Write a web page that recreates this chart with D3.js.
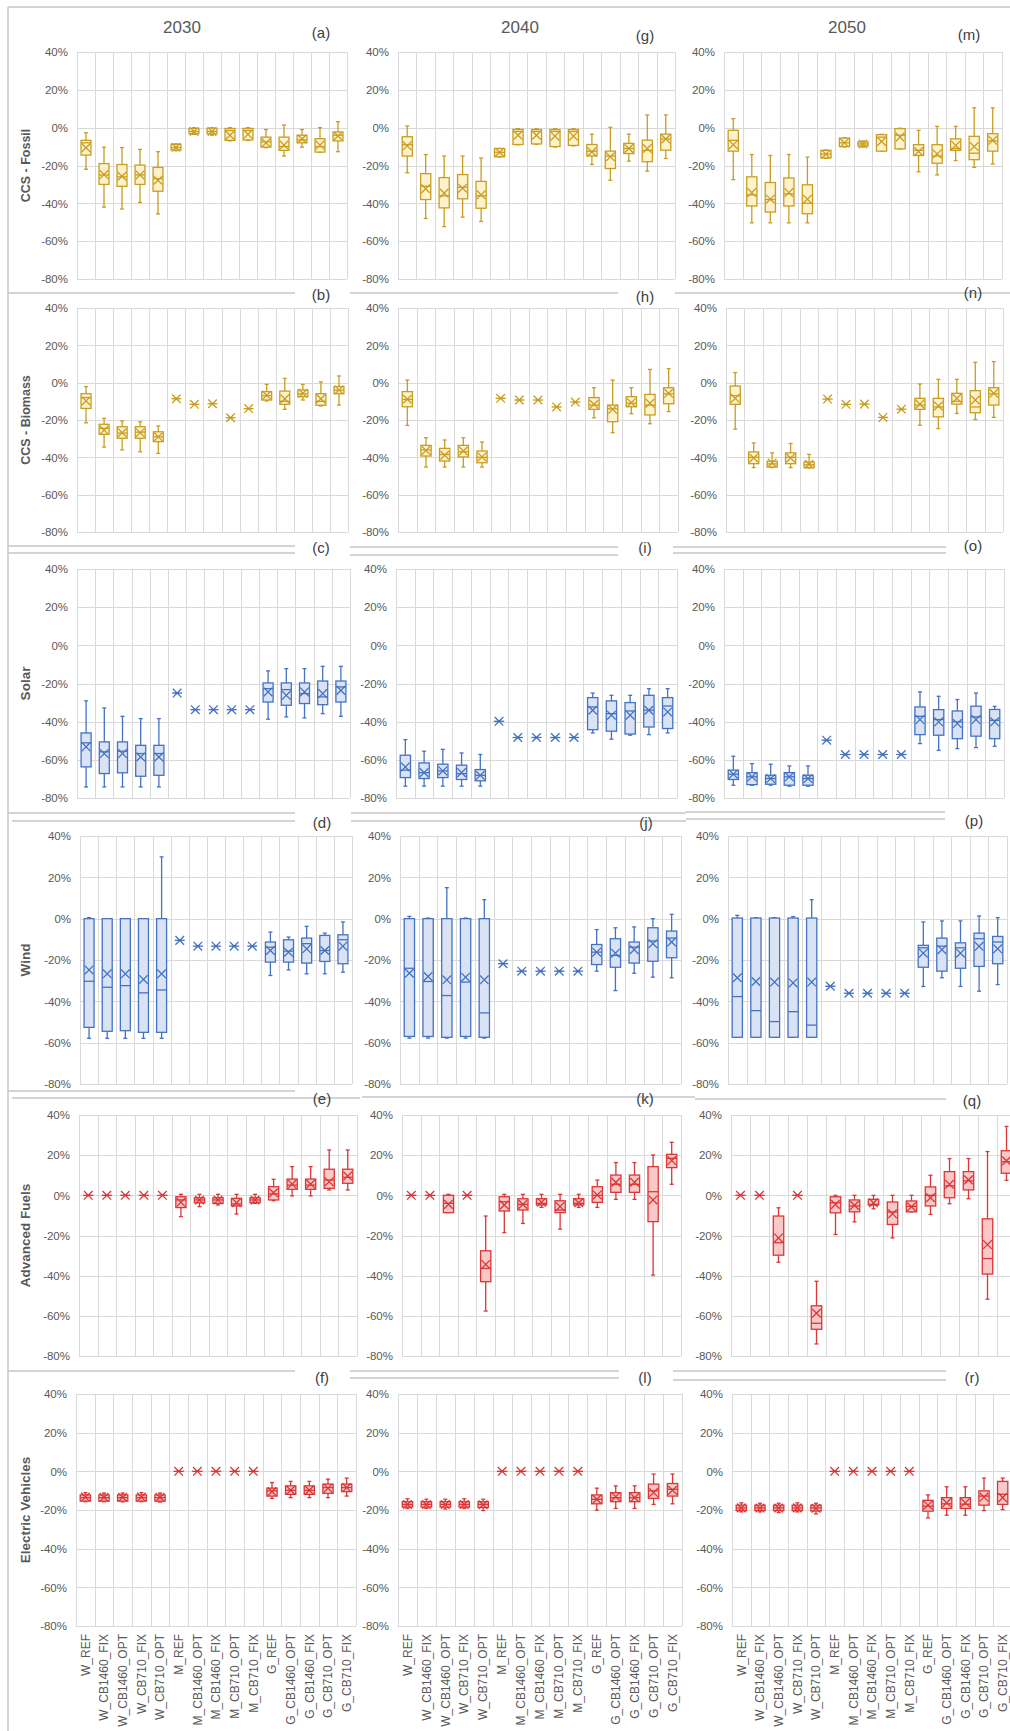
<!DOCTYPE html>
<meta charset="utf-8">
<style>
body { margin: 0; background: #fff; }
svg { display: block; font-family: "Liberation Sans", Arial, sans-serif; }
.tick text { fill: #595959; font-size: 11px; }
.grid line { stroke: #d9d9d9; stroke-width: 1; }
</style>
<svg width="1010" height="1731"></svg>
<script src="https://d3js.org/d3.v7.min.js"></script>
<script>

var categories = ["W_REF", "W_CB1460_FIX", "W_CB1460_OPT", "W_CB710_FIX", "W_CB710_OPT",
	"M_REF", "M_CB1460_OPT", "M_CB1460_FIX", "M_CB710_OPT", "M_CB710_FIX",
	"G_REF", "G_CB1460_OPT", "G_CB1460_FIX", "G_CB710_OPT", "G_CB710_FIX"];
var years = ["2030", "2040", "2050"];
var rowTitles = ["CCS - Fossil", "CCS - Biomass", "Solar", "Wind", "Advanced Fuels", "Electric Vehicles"];
var panelLetters = [["(a)", "(g)", "(m)"], ["(b)", "(h)", "(n)"], ["(c)", "(i)", "(o)"],
	["(d)", "(j)", "(p)"], ["(e)", "(k)", "(q)"], ["(f)", "(l)", "(r)"]];
var yTicks = [40, 20, 0, -20, -40, -60, -80];

// each entry: [min, q1, median, q3, max, mean] in %; a single number = all scenarios identical
var fossil2030 = [
	[-22, -14.5, -8, -6.7, -2.7, -10.6], [-42, -30, -25, -19, -10.3, -24.8], [-43, -31, -26, -19.5, -10.5, -25.7],
	[-39.5, -30, -25, -19.8, -11.5, -25], [-45.6, -33.6, -27, -21, -12.7, -27.8], [-12.2, -11.8, -10.5, -8.8, -8.5, -10.4],
	[-3.5, -3.2, -2, -0.4, 0, -2], [-4, -3.3, -2, -0.3, 0, -2], [-7, -6.7, -1.5, -0.4, 0, -4],
	[-6.8, -6.5, -1.5, -0.4, 0, -3.5], [-10.6, -10.3, -7.5, -5, -1, -8], [-15, -12, -10, -5, 1.4, -9.2],
	[-10.3, -8, -6.5, -4, -1, -6], [-13, -12.9, -10, -5.8, 0, -9.2], [-12.7, -7, -4, -2.3, 3.2, -4.4]
];
var fossil2040 = [
	[-23.8, -15, -9, -4.8, 0.9, -9.6], [-48, -38, -31, -24.3, -14.2, -32.3], [-52.3, -42.4, -36, -26.4, -15, -34.6],
	[-47.3, -37.6, -31.5, -24.8, -15, -32], [-49.6, -42.6, -36, -28.4, -16, -35.5], [-15.5, -15.4, -13, -11, -11, -13],
	[-9, -8.9, -2, -0.9, -0.5, -4], [-8.8, -8.6, -2, -1, -0.5, -4], [-10.2, -10, -2, -1, -0.5, -4.5],
	[-9.6, -9.4, -2, -1, -0.5, -4.5], [-19.5, -15, -12.5, -8.9, -3.4, -12.8], [-27.8, -21.6, -15, -12.4, 0.2, -15.4],
	[-17.7, -13.7, -11, -8.3, -3.4, -11], [-23, -18, -12, -6.6, 6.7, -11], [-16.3, -11.9, -6, -3.4, 6.7, -6]
];
var fossil2050 = [
	[-27.5, -12.4, -6.7, -1.4, 4.8, -9], [-50.3, -41.4, -35.5, -26, -14.2, -34.3], [-50.3, -44.6, -38, -29, -14.7, -37.8],
	[-50.3, -41.4, -35, -26.6, -14.2, -34.3], [-50.3, -45.5, -40, -30.2, -15.6, -37.8], [-16.2, -16, -14, -12, -11.8, -14],
	[-10.2, -10, -8, -5.5, -5.3, -8], [-10.3, -9.7, -8.6, -7.5, -7, -8.6], [-12.5, -12.4, -5, -3.7, -3.5, -7.3],
	[-11.3, -11.2, -4, -0.5, -0.3, -5], [-23.3, -14.7, -12, -9, -1.4, -12.6], [-25, -18.8, -15, -9, 0.7, -13.9],
	[-17.4, -12, -11, -5.9, 0.7, -9.4], [-21, -16.9, -13.5, -4.6, 10.5, -10], [-19.2, -12.4, -7, -3.2, 10.5, -6.7]
];
var biomass2030 = [
	[-21.5, -13.8, -8, -5.9, -2.1, -9.8], [-34.5, -27.7, -24.5, -22.3, -19.1, -25.4], [-36, -29.8, -27, -23.6, -20.5, -26.8],
	[-37, -29.8, -26.5, -23.6, -21, -26.8], [-37.9, -31.6, -29, -26.3, -23.2, -29], [-8.6],
	[-11.6], [-11.3], [-18.8],
	[-13.9], [-9.8, -9.3, -7, -4.8, -0.9, -6.8], [-14.3, -11.6, -10, -4.5, 2.3, -8.6],
	[-9.3, -7.5, -6, -3.9, -0.9, -5.7], [-12.5, -12.1, -10, -5.9, 0.4, -8.6], [-12, -5.9, -4, -2.1, 3.6, -3.9]
];
var biomass2040 = [
	[-22.9, -12.9, -9, -4.8, 1.4, -8.9], [-45.2, -39.3, -36, -33.6, -29.5, -36.3], [-45.2, -42, -38.5, -35.2, -30.7, -38.9],
	[-45.2, -39.8, -37, -33.6, -29.5, -36.6], [-45.2, -42.9, -40, -36.6, -31.8, -39.8], [-8.4],
	[-9.3], [-9.3], [-13],
	[-10.4], [-18.8, -14.3, -12, -8, -2.7, -11.6], [-26.8, -20.9, -14, -12, 1.4, -14.3],
	[-16.6, -12.9, -11, -7.5, -2.7, -10.7], [-22, -17.3, -12, -6.3, 7.1, -11], [-15.5, -11.3, -6, -2.7, 7.5, -5.7]
];
var biomass2050 = [
	[-24.9, -11.6, -7, -1.8, 5.4, -8.4], [-45.5, -43.4, -40, -37.1, -32.3, -40.3], [-45.5, -45.2, -43.5, -42.1, -37.6, -43],
	[-45.5, -43.4, -40, -37.6, -32.6, -40.3], [-45.7, -45.5, -44, -42.5, -38.4, -43.7], [-8.8],
	[-11.6], [-11.5], [-18.6],
	[-14.2], [-22.8, -14.3, -12, -8.4, -0.7, -11.5], [-24.6, -18.3, -13, -8.4, 1.8, -12.5],
	[-16.5, -11.5, -10, -5.7, 1.8, -8.4], [-19.7, -16.1, -13, -4.3, 10.9, -9.3], [-18.6, -12, -6, -2.7, 11.3, -5.7]
];
var solar2030 = [
	[-74.2, -63.7, -51.1, -45.9, -29.1, -53.2], [-74.2, -67.2, -55.8, -50.6, -32.8, -56.7], [-74.2, -66.8, -55.5, -50.6, -37.2, -56.7],
	[-74.2, -68.6, -56.7, -52.4, -38.4, -58.5], [-74.2, -68.1, -56.7, -52.4, -38.4, -58.5], [-25],
	[-33.7], [-33.7], [-33.7],
	[-33.7], [-38.7, -29.7, -22.7, -19.7, -13.4, -24.4], [-37.5, -31.4, -23.2, -19.7, -12.2, -26.2],
	[-38, -30.5, -25.3, -19.7, -12.2, -24.4], [-35.8, -31.1, -27, -18.7, -11, -25.3], [-37.2, -29.7, -21.8, -18.7, -11, -23.6]
];
var solar2040 = [
	[-73.8, -69.3, -65.4, -57.6, -49.4, -63.7], [-73.8, -69.8, -66.7, -61.6, -55.5, -66.7], [-73.8, -69.3, -65.8, -62.3, -54.5, -65.8],
	[-73.8, -70.3, -67.2, -62.8, -56.4, -66.7], [-73.8, -71, -68.1, -65.1, -57.2, -68.1], [-39.8],
	[-48.3], [-48.3], [-48.3],
	[-48.3], [-45.9, -44.2, -32.3, -27.4, -25, -34], [-49.2, -45, -35.8, -29.1, -26.2, -36.6],
	[-47.1, -46.5, -34.4, -30, -26.2, -36.6], [-46.8, -42.8, -34, -26.2, -22.7, -34], [-45.9, -43.6, -31.8, -27.4, -22.7, -34.9]
];
var solar2050 = [
	[-73.3, -70.3, -67.5, -65.4, -58.1, -67.5], [-73.3, -73, -68.9, -66.7, -62, -68.9], [-73.3, -72.8, -69.8, -68.1, -62.3, -69.8],
	[-73.8, -73.3, -68.9, -66.7, -63.2, -68.9], [-73.8, -73.3, -69.8, -68.1, -63.2, -69.8], [-49.7],
	[-57.2], [-57.2], [-57.2],
	[-57.2], [-51.5, -46.8, -37.2, -32.3, -24.4, -38.9], [-55, -47.1, -38.9, -33.7, -26.7, -40.1],
	[-54.1, -48.9, -40.1, -34.4, -28.4, -41], [-53.6, -47.6, -37.5, -31.9, -25, -38.9], [-52.9, -48.9, -39.3, -33.6, -32, -40.1]
];
var wind2030 = [
	[-57.9, -52.6, -30.3, 0, 0.5, -24.8], [-57.9, -54.5, -33.2, 0, 0, -26.7], [-57.9, -54.2, -32.4, 0, 0, -26.7],
	[-57.9, -55, -35.9, 0, 0, -29.4], [-57.9, -55, -34.5, 0, 29.9, -26.7], [-10.5],
	[-13.3], [-13.3], [-13.3],
	[-13.3], [-27.5, -21, -13.8, -11.3, -6.5, -15.4], [-24.8, -21, -15.7, -10.2, -8.9, -16.2],
	[-26.7, -21.5, -12.1, -9.4, -3.7, -14.6], [-26.7, -20.7, -15.4, -8.1, -7, -15.4], [-25.9, -21.8, -10.2, -7.8, -1.6, -13.3]
];
var wind2040 = [
	[-57.8, -57, -24, 0, 1.1, -26.4], [-57.8, -57, -30.4, 0, 0.3, -28], [-57.8, -57.4, -37.2, 0, 15, -29.6],
	[-57.8, -57, -30.7, 0, 0.3, -28.3], [-57.8, -57.4, -45.6, 0, 9.2, -29.6], [-21.8],
	[-25.4], [-25.4], [-25.4],
	[-25.4], [-25.4, -22.2, -16.2, -12.5, -5.3, -16.2], [-34.8, -23.5, -17.8, -9.7, -4.4, -16.7],
	[-26.4, -21.5, -13.8, -11.3, -4, -15], [-28.3, -20.6, -10.8, -4.4, 0, -12.1], [-28.6, -18.9, -9.4, -6, 2.1, -11.3]
];
var wind2050 = [
	[-57.4, -57.4, -37.7, 0.3, 1.6, -28.6], [-57.4, -57.4, -44.5, 0.3, 0.5, -30.4], [-57.4, -57.4, -49.8, 0.3, 0.5, -30.7],
	[-57.4, -57.4, -45, 0.3, 1, -31.1], [-57.4, -57.4, -51.5, 0.3, 9.2, -30.7], [-32.7],
	[-36.1], [-36.1], [-36.1],
	[-36.1], [-32.8, -23.5, -14.1, -12.9, -1.6, -16.7], [-28.6, -25.4, -13.3, -9.4, -1.1, -15],
	[-32.8, -24, -14.1, -11.7, -1.1, -16.7], [-35.1, -23.1, -9.7, -7, 1.3, -13.4], [-31.9, -21.8, -11.3, -8.6, 0.5, -14.6]
];
var fuels2030 = [
	[0], [0], [0],
	[0], [0], [-10.6, -6.1, -2.3, -0.7, 0.5, -3.5],
	[-5.6, -3.7, -2.3, -1.2, 0.5, -2.3], [-4.8, -4, -2.3, -1.2, 0.5, -2.3], [-9.3, -5.3, -4.3, -1.5, 0.5, -3.7],
	[-4, -3.7, -2.3, -1.2, 0.5, -2.3], [-2.7, -2.3, 0.7, 4.3, 8, 1.3], [-0.3, 3, 5.1, 8.1, 14.3, 5.6],
	[-0.3, 3, 5.1, 8.1, 14.3, 5.6], [2.7, 3.5, 7.6, 13, 22.6, 6.8], [2.7, 6, 9, 13, 22.6, 9.6]
];
var fuels2040 = [
	[0], [0], [-8.6, -8.6, -4, 0, 0.5, -4.5],
	[0], [-57.6, -43, -36.4, -27.6, -10.3, -34.4], [-18.6, -7.8, -3.2, -0.7, 0.5, -4.8],
	[-14, -7.3, -4.5, -1.7, 0.5, -4.5], [-6, -4.8, -4, -1.7, 0.5, -3.5], [-16.8, -8.6, -7.3, -2.7, 0.5, -5.6],
	[-6, -4.8, -4, -1.7, 0.5, -3.7], [-6, -3.5, 0, 4.3, 7.6, 0.2], [-2, 1.5, 5.5, 10.1, 16.3, 6.5],
	[-2, 1.5, 5.5, 10.1, 16.3, 6.5], [-39.7, -13.1, 1.8, 14.3, 20.1, -2.3], [5.5, 13.8, 18.4, 20.4, 26.4, 17.3]
];
var fuels2050 = [
	[0], [0], [-33.3, -29.8, -23.6, -10.3, -6.2, -21.2],
	[0], [-74, -66.7, -63.7, -55, -42.8, -58.7], [-19.5, -8.7, -3.7, -0.7, 0, -4.5],
	[-13.2, -8.2, -5.3, -2.3, 0, -5], [-6.7, -4.8, -4.5, -2, 0, -3.7], [-21.2, -14.5, -8.3, -3.3, 0, -9.2],
	[-8.2, -8.2, -5.5, -2.8, 0, -5.7], [-9.5, -5.3, 0, 4.2, 10, -1.2], [-4.2, -1.2, 4.7, 11.8, 18.3, 5.5],
	[-1.7, 2.7, 7.2, 11.8, 18.3, 7.7], [-51.7, -39.2, -31.5, -11.7, 21.8, -24.5], [7.5, 11, 16.7, 22.2, 34.3, 17.2]
];
var ev2030 = [
	[-15.7, -15.4, -13.6, -12.2, -11, -13.3], [-15.7, -15.4, -13.6, -12.2, -11.2, -13.4], [-15.8, -15.4, -13.6, -12.2, -11.2, -13.4],
	[-15.7, -15.4, -13.6, -12.2, -11, -13.3], [-15.9, -15.4, -13.6, -12.2, -11.2, -13.4], [0],
	[0], [0], [0],
	[0], [-14, -12.8, -10.1, -8.7, -5.8, -10.5], [-13.6, -11.9, -9.8, -7.5, -5.2, -9.8],
	[-13.6, -11.9, -9.8, -7.5, -5.2, -9.8], [-13.6, -11.4, -8.4, -6.6, -4, -8.7], [-12.8, -10.5, -8.4, -6.6, -3.5, -8.4]
];
var ev2040 = [
	[-19.2, -18.5, -17.1, -15.7, -14.2, -17.1], [-19.2, -18.5, -17.1, -15.7, -14.4, -17.2], [-19.5, -18.5, -17.1, -15.7, -14.4, -17.2],
	[-19.2, -18.5, -17.1, -15.7, -14.2, -17.1], [-20.3, -18.7, -17.1, -15.7, -14.4, -17.3], [0],
	[0], [0], [0],
	[0], [-20.1, -16.8, -14.5, -12.2, -8.7, -14.5], [-19.2, -15.7, -13.6, -11, -7.5, -13.1],
	[-19.2, -15.7, -13.6, -11, -7.5, -13.6], [-17.1, -14, -10.1, -6.6, -1.4, -11], [-16.8, -12.8, -9.3, -6.3, -1.4, -9.8]
];
var ev2050 = [
	[-21, -20.3, -18.9, -17.5, -16.3, -18.9], [-21, -20.3, -18.9, -17.5, -16.5, -19], [-21.3, -20.3, -18.9, -17.5, -16.5, -19],
	[-21, -20.3, -18.9, -17.5, -16.3, -18.9], [-22, -20.5, -18.9, -17.5, -16.5, -19.1], [0],
	[0], [0], [0],
	[0], [-24.1, -20.6, -18, -15, -12.2, -17.5], [-22.7, -19.2, -16.8, -13.6, -8, -16.3],
	[-22.7, -19.2, -17, -13.6, -8, -16.3], [-20.3, -17.5, -12.8, -10.1, -3.5, -13.3], [-19.8, -17.1, -11.9, -5.2, -3.5, -13.6]
];

var rowData = [
	[fossil2030, fossil2040, fossil2050],
	[biomass2030, biomass2040, biomass2050],
	[solar2030, solar2040, solar2050],
	[wind2030, wind2040, wind2050],
	[fuels2030, fuels2040, fuels2050],
	[ev2030, ev2040, ev2050]
];

var palette = {
	gold: {stroke: "#c89d22", fill: "#fff2cc"},
	blue: {stroke: "#4472c4", fill: "#dae3f3"},
	red: {stroke: "#dc3535", fill: "#fac8c8"}
};
var rowColor = ["gold", "gold", "blue", "blue", "red", "red"];

// layout of the plot areas (pixels)
var rowY = [[52, 279], [308, 532], [569, 798], [836, 1084], [1115, 1356], [1394, 1626]];
var rowX = [
	[[77, 347], [398, 675], [724, 1002]],
	[[77, 348], [398, 678], [726, 1003]],
	[[77, 350], [396, 677], [724, 1004]],
	[[80, 352], [400, 681], [728, 1007]],
	[[79, 357], [402, 681], [731, 1016]],
	[[76, 356], [398, 682], [732, 1012]]
];
var letterPos = [
	[[321, 38], [645, 41], [969, 40]],
	[[321, 300], [645, 302], [973, 298]],
	[[321, 553], [645, 553], [973, 551]],
	[[322, 828], [646, 828], [974, 826]],
	[[322, 1104], [645, 1104], [972, 1106]],
	[[322, 1383], [645, 1383], [972, 1383]]
];
var titleX = [182, 520, 847];
var frameLines = [
	[8, 1010, 7],
	[8, 295, 293], [350, 618, 293], [675, 1010, 293],
	[8, 295, 546], [8, 295, 553], [350, 618, 547], [350, 618, 555], [673, 946, 547], [673, 946, 553],
	[8, 295, 813], [12, 295, 821], [351, 686, 813], [351, 686, 821], [686, 945, 812], [686, 945, 819],
	[8, 295, 1091], [12, 360, 1098], [362, 695, 1097], [695, 946, 1099],
	[8, 295, 1371], [350, 619, 1371], [350, 619, 1378], [673, 946, 1371], [673, 946, 1380]
];

var svg = d3.select("svg");

svg.append("g")
	.selectAll("line")
	.data(frameLines)
	.enter().append("line")
	.attr("x1", function(d) { return d[0]; })
	.attr("x2", function(d) { return d[1]; })
	.attr("y1", function(d) { return d[2]; })
	.attr("y2", function(d) { return d[2]; })
	.style("stroke", "#c6c6c6")
	.style("stroke-width", 1.5);

svg.append("line")
	.attr("x1", 8).attr("x2", 8).attr("y1", 7).attr("y2", 1731)
	.style("stroke", "#c6c6c6")
	.style("stroke-width", 1.5);

// year titles
svg.selectAll(".year")
	.data(years)
	.enter().append("text")
	.attr("class", "year")
	.attr("x", function(d, i) { return titleX[i]; })
	.attr("y", 33)
	.attr("text-anchor", "middle")
	.style("font-size", "17px")
	.style("fill", "#595959")
	.text(function(d) { return d; });

rowData.forEach(function(row, r) {
	var col = palette[rowColor[r]];
	var y0 = rowY[r][0], y1 = rowY[r][1];

	// row title
	svg.append("text")
		.attr("transform", "translate(" + 30 + "," + ((y0 + y1) / 2) + ") rotate(-90)")
		.attr("text-anchor", "middle")
		.style("font-size", r < 2 ? "12.5px" : "13.5px")
		.style("font-weight", "bold")
		.style("fill", "#595959")
		.text(rowTitles[r]);

	row.forEach(function(values, c) {
		var x0 = rowX[r][c][0], x1 = rowX[r][c][1];

		var x = d3.scaleBand()
			.domain(categories)
			.range([x0, x1]);

		var y = d3.scaleLinear()
			.domain([-80, 40])
			.range([y1, y0]);

		var g = svg.append("g");

		// white plot background over frames
		g.append("rect")
			.attr("x", x0).attr("y", y0)
			.attr("width", x1 - x0).attr("height", y1 - y0)
			.style("fill", "#fff");

		var grid = g.append("g").attr("class", "grid");
		grid.selectAll(".h")
			.data(yTicks)
			.enter().append("line")
			.attr("x1", x0).attr("x2", x1)
			.attr("y1", function(d) { return Math.round(y(d)) + 0.5; })
			.attr("y2", function(d) { return Math.round(y(d)) + 0.5; });
		grid.selectAll(".v")
			.data(categories.concat(["end"]))
			.enter().append("line")
			.attr("x1", function(d) { return Math.round(d === "end" ? x1 : x(d)) + 0.5; })
			.attr("x2", function(d) { return Math.round(d === "end" ? x1 : x(d)) + 0.5; })
			.attr("y1", y0).attr("y2", y1);

		var axis = g.append("g")
			.attr("transform", "translate(" + x0 + ",0)")
			.call(d3.axisLeft(y)
				.tickValues(yTicks)
				.tickSize(0)
				.tickPadding(9)
				.tickFormat(function(d) { return d + "%"; }));
		axis.select(".domain").remove();
		axis.selectAll("text").style("font-size", "11.5px").style("fill", "#595959");

		var bw = x.bandwidth() * 0.55;

		var box = g.selectAll(".box")
			.data(values.map(function(v, i) {
				var s = v.length === 1 ? [v[0], v[0], v[0], v[0], v[0], v[0]] : v;
				return {cat: categories[i], min: s[0], q1: s[1], med: s[2], q3: s[3], max: s[4], mean: s[5]};
			}))
			.enter().append("g")
			.attr("transform", function(d) { return "translate(" + (x(d.cat) + x.bandwidth() / 2) + ",0)"; })
			.style("stroke", col.stroke)
			.style("stroke-width", 1.3)
			.style("fill", "none");

		box.append("line")
			.attr("y1", function(d) { return y(d.max); })
			.attr("y2", function(d) { return y(d.q3); });
		box.append("line")
			.attr("y1", function(d) { return y(d.q1); })
			.attr("y2", function(d) { return y(d.min); });
		box.append("line")
			.attr("x1", -2).attr("x2", 2)
			.attr("y1", function(d) { return y(d.max); })
			.attr("y2", function(d) { return y(d.max); });
		box.append("line")
			.attr("x1", -2).attr("x2", 2)
			.attr("y1", function(d) { return y(d.min); })
			.attr("y2", function(d) { return y(d.min); });

		box.append("rect")
			.attr("x", -bw / 2)
			.attr("width", bw)
			.attr("y", function(d) { return y(d.q3); })
			.attr("height", function(d) { return Math.max(0, y(d.q1) - y(d.q3)); })
			.style("fill", col.fill);

		box.append("line")
			.attr("x1", -bw / 2).attr("x2", bw / 2)
			.attr("y1", function(d) { return y(d.med); })
			.attr("y2", function(d) { return y(d.med); });

		var m = 4.3;
		box.append("path")
			.attr("d", function(d) {
				var cy = y(d.mean);
				return "M" + (-m) + "," + (cy - m) + "L" + m + "," + (cy + m) +
					"M" + (-m) + "," + (cy + m) + "L" + m + "," + (cy - m);
			});

		// panel letter
		svg.append("text")
			.attr("x", letterPos[r][c][0])
			.attr("y", letterPos[r][c][1])
			.attr("text-anchor", "middle")
			.style("font-size", "15px")
			.style("fill", "#404040")
			.text(panelLetters[r][c]);

		// category labels on the last row
		if (r === rowData.length - 1) {
			g.selectAll(".cat")
				.data(categories)
				.enter().append("text")
				.attr("transform", function(d) { return "translate(" + (x(d) + x.bandwidth() / 2) + "," + (y1 + 8) + ") rotate(-90)"; })
				.attr("text-anchor", "end")
				.attr("dy", "0.35em")
				.style("font-size", "12px")
				.style("fill", "#595959")
				.text(function(d) { return d; });
		}
	});
});

</script>
